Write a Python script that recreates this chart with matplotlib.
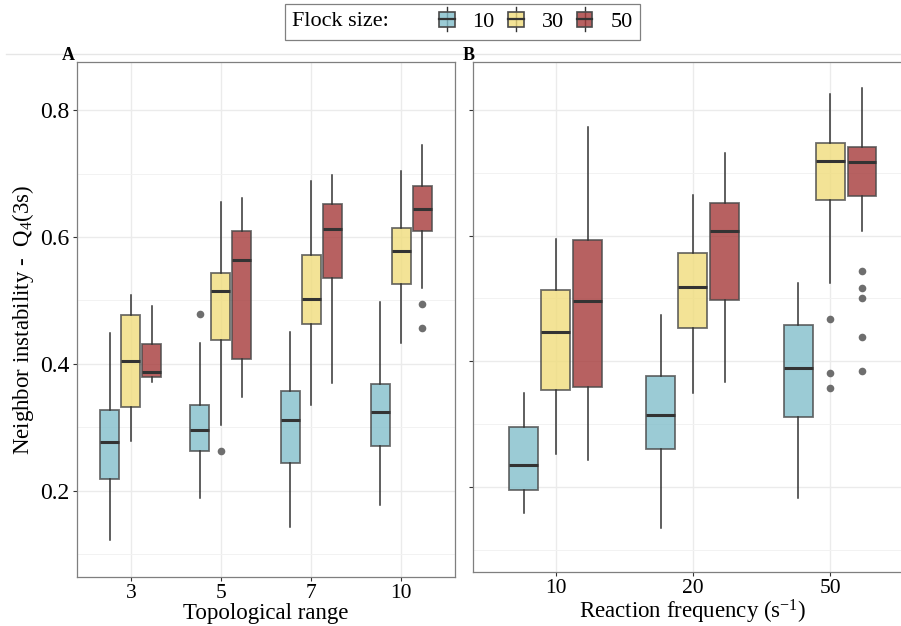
import matplotlib
matplotlib.use("Agg")
import matplotlib.pyplot as plt
from matplotlib.lines import Line2D
from matplotlib.patches import Rectangle
from matplotlib.legend_handler import HandlerBase
from matplotlib.offsetbox import HPacker

plt.rcParams["font.family"] = ["Liberation Serif", "DejaVu Serif"]
plt.rcParams["mathtext.fontset"] = "custom"
plt.rcParams["mathtext.rm"] = "Liberation Serif"
plt.rcParams["mathtext.it"] = "Liberation Serif:italic"

# ---------------------------------------------------------------
# Data (box summaries)
# ---------------------------------------------------------------
flock_sizes = ["10", "30", "50"]
colors = ["#82becb", "#f0dc7c", "#a53a3a"]

# Panel A: topological range
topo_ranges = ["3", "5", "7", "10"]
# one list per flock size, one value per range
a_lo = [[0.123, 0.188, 0.143, 0.177], [0.278, 0.303, 0.335, 0.433], [0.371, 0.347, 0.370, 0.520]]
a_q1 = [[0.218, 0.262, 0.244, 0.271], [0.332, 0.438, 0.463, 0.526], [0.379, 0.408, 0.536, 0.610]]
a_med = [[0.277, 0.296, 0.312, 0.324], [0.405, 0.515, 0.503, 0.578], [0.388, 0.564, 0.613, 0.644]]
a_q3 = [[0.327, 0.335, 0.358, 0.369], [0.477, 0.543, 0.571, 0.614], [0.431, 0.610, 0.652, 0.680]]
a_hi = [[0.448, 0.433, 0.451, 0.497], [0.508, 0.655, 0.689, 0.705], [0.491, 0.662, 0.698, 0.746]]
a_fliers = [[[], [0.479], [], []],
            [[], [0.262], [], []],
            [[], [], [], [0.495, 0.457]]]

# Panel B: reaction frequency
react_freqs = ["10", "20", "50"]
b_lo = [[0.159, 0.135, 0.182], [0.252, 0.349, 0.525], [0.243, 0.367, 0.607]]
b_q1 = [[0.196, 0.260, 0.311], [0.355, 0.453, 0.656], [0.359, 0.497, 0.663]]
b_med = [[0.235, 0.315, 0.389], [0.447, 0.519, 0.719], [0.496, 0.607, 0.717]]
b_q3 = [[0.295, 0.376, 0.457], [0.513, 0.572, 0.748], [0.593, 0.652, 0.741]]
b_hi = [[0.350, 0.474, 0.525], [0.594, 0.664, 0.826], [0.772, 0.732, 0.835]]
b_fliers = [[[], [], []],
            [[], [], [0.467, 0.381, 0.358]],
            [[], [], [0.544, 0.516, 0.501, 0.438, 0.384]]]

# ---------------------------------------------------------------
# Figure
# ---------------------------------------------------------------
fig = plt.figure(figsize=(9.01, 6.26), dpi=100)
ax_a = fig.add_axes([0.0851, 0.0788, 0.4202, 0.8217])
ax_b = fig.add_axes([0.5253, 0.0858, 0.4874, 0.8147])

dodge = 0.233
box_w = 0.21


def draw_panel(ax, cats, lo, q1, med, q3, hi, fliers):
    for g in range(len(flock_sizes)):
        stats = []
        for c in range(len(cats)):
            stats.append(dict(whislo=lo[g][c], q1=q1[g][c], med=med[g][c],
                              q3=q3[g][c], whishi=hi[g][c], fliers=fliers[g][c]))
        pos = [c + 1 + (g - 1) * dodge for c in range(len(cats))]
        ax.bxp(stats, positions=pos, widths=box_w, patch_artist=True,
               showcaps=False, manage_ticks=False,
               boxprops=dict(facecolor=colors[g], edgecolor="#4a4a4a",
                             linewidth=1.3, alpha=0.8),
               medianprops=dict(color="#333333", linewidth=2.2),
               whiskerprops=dict(color="#333333", linewidth=1.1),
               flierprops=dict(marker="o", markerfacecolor="#6e6e6e",
                               markeredgecolor="none", markersize=5.5))
    ax.set_xlim(0.4, len(cats) + 0.6)
    ax.set_ylim(0.0644, 0.8757)
    ax.set_xticks(range(1, len(cats) + 1))
    ax.set_xticklabels(cats)
    ax.set_yticks([0.2, 0.4, 0.6, 0.8])
    ax.set_yticks([0.1, 0.3, 0.5, 0.7], minor=True)
    ax.set_axisbelow(True)
    ax.grid(True, which="major", color="#ebebeb", linewidth=1.0)
    ax.grid(True, which="minor", axis="y", color="#f2f2f2", linewidth=0.7)
    ax.tick_params(which="major", length=3, width=0.8, color="#333333",
                   labelcolor="black", pad=2)
    ax.tick_params(which="minor", length=0)
    ax.tick_params(axis="x", labelsize=15.5)
    ax.tick_params(axis="y", labelsize=17)
    for sp in ax.spines.values():
        sp.set_color("#7f7f7f")
        sp.set_linewidth(0.9)


draw_panel(ax_a, topo_ranges, a_lo, a_q1, a_med, a_q3, a_hi, a_fliers)
draw_panel(ax_b, react_freqs, b_lo, b_q1, b_med, b_q3, b_hi, b_fliers)
ax_b.set_yticklabels([])

ax_a.set_xlabel("Topological range", fontsize=16.5, labelpad=0)
ax_b.set_xlabel("Reaction frequency (s$^{-1}$)", fontsize=16.5, labelpad=0)
ax_a.set_ylabel("Neighbor instability -  Q$_4$(3s)", fontsize=16.5, labelpad=3)

# panel tags and the thin rule above the panels
fig.text(0.0688, 0.9035, "A", fontsize=13, fontweight="bold", ha="left", va="baseline")
fig.text(0.5130, 0.9035, "B", fontsize=13, fontweight="bold", ha="left", va="baseline")
fig.add_artist(Line2D([0.0067, 1.0], [0.9133, 0.9133], color="#e6e6e6", linewidth=1.0))


# ---------------------------------------------------------------
# Legend with small boxplot keys, title on the left
# ---------------------------------------------------------------
class BoxKey(HandlerBase):
    def create_artists(self, legend, orig, xdescent, ydescent, width, height,
                       fontsize, trans):
        x0, y0 = -xdescent, -ydescent
        whisk = Line2D([x0 + width / 2] * 2, [y0 - 0.3 * height, y0 + 1.3 * height],
                       color="#333333", linewidth=1.0, transform=trans)
        box = Rectangle((x0, y0), width, height,
                        facecolor=orig.get_facecolor(), edgecolor="#4a4a4a",
                        linewidth=1.2, transform=trans)
        mid = Line2D([x0, x0 + width], [y0 + 0.5 * height] * 2,
                     color="#333333", linewidth=1.6, transform=trans)
        return [whisk, box, mid]


handles = [Rectangle((0, 0), 1, 1, facecolor=c, alpha=0.8) for c in colors]
leg = fig.legend(handles, flock_sizes, handler_map={Rectangle: BoxKey()},
                 title="Flock size:", ncol=3, loc="center",
                 bbox_to_anchor=(0.5133, 0.965), fontsize=16, title_fontsize=16,
                 handlelength=0.7, handleheight=0.65, handletextpad=0.8,
                 columnspacing=0.6, borderpad=0.35, fancybox=False,
                 edgecolor="#808080", framealpha=1)
leg.get_frame().set_linewidth(0.9)
leg._legend_box = HPacker(pad=leg._legend_box.pad, sep=36, align="center",
                          children=[leg._legend_title_box, leg._legend_handle_box])
leg._legend_box.set_figure(fig)
leg._legend_box.set_offset(leg._findoffset)

fig.savefig("out.png", dpi=100)
